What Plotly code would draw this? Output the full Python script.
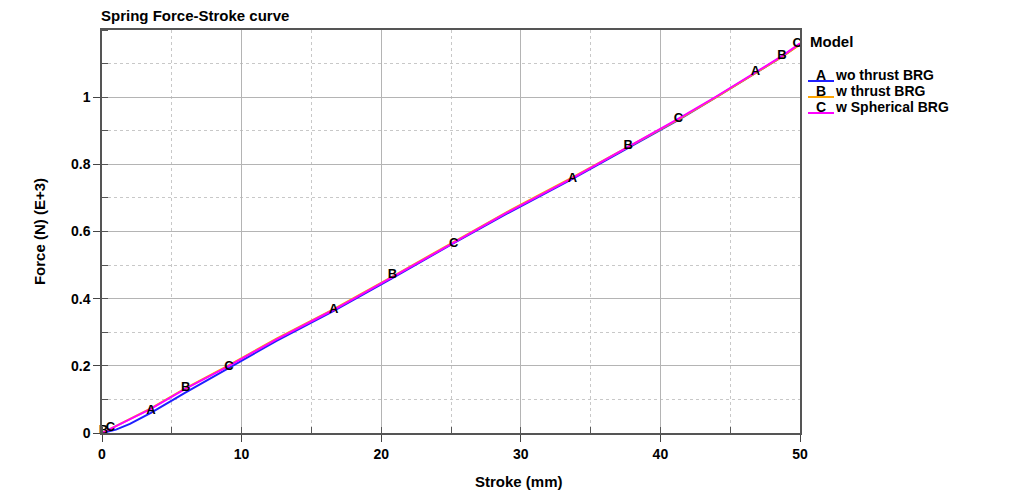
import plotly.graph_objects as go

# ---- data (Force in N E+3, stroke in mm) ----
stroke = [0, 1, 2, 3.5, 6, 9, 12.5, 16.6, 20.8, 25, 29, 33.7, 37.7, 41.3, 44, 46.8, 48.7, 50]
force_A = [0, 0.01, 0.027, 0.06, 0.121, 0.191, 0.274, 0.364, 0.461, 0.561, 0.653, 0.757, 0.85, 0.932, 1.0, 1.071, 1.12, 1.158]
force_B = [0, 0.021, 0.042, 0.073, 0.134, 0.2, 0.281, 0.369, 0.466, 0.565, 0.658, 0.761, 0.853, 0.934, 1.0, 1.071, 1.12, 1.157]
force_C = [0, 0.02, 0.041, 0.072, 0.132, 0.198, 0.279, 0.367, 0.464, 0.563, 0.656, 0.759, 0.852, 0.936, 1.002, 1.073, 1.122, 1.16]

# letter label positions along curves
lab_A_x = [3.5, 16.6, 33.7, 46.8]
lab_A_y = [0.067, 0.366, 0.756, 1.075]
lab_B_x = [0.1, 6.0, 20.8, 37.7, 48.7]
lab_B_y = [0.006, 0.134, 0.47, 0.854, 1.122]
lab_C_x = [0.6, 9.1, 25.2, 41.3, 49.8]
lab_C_y = [0.016, 0.196, 0.565, 0.937, 1.16]

series = [
    ("A", "wo thrust BRG", force_A, "#1f1fff", lab_A_x, lab_A_y),
    ("B", "w thrust BRG", force_B, "#ffa500", lab_B_x, lab_B_y),
    ("C", "w Spherical BRG", force_C, "#ff00ff", lab_C_x, lab_C_y),
]

x_ticks = [0, 10, 20, 30, 40, 50]
y_ticks = [0, 0.2, 0.4, 0.6, 0.8, 1.0]
y_ticktext = ["0", "0.2", "0.4", "0.6", "0.8", "1"]

FONT = "Liberation Sans, Arial, sans-serif"

fig = go.Figure()
for letter, name, ys, color, lx, ly in series:
    fig.add_trace(go.Scatter(x=stroke, y=ys, mode="lines", name=name,
                             line=dict(color=color, width=2), showlegend=False))
for letter, name, ys, color, lx, ly in series:
    fig.add_trace(go.Scatter(x=lx, y=ly, mode="text", text=["<b>%s</b>" % letter] * len(lx),
                             textfont=dict(family=FONT, size=13, color="black"),
                             textposition="middle center", showlegend=False, cliponaxis=False))

axis_common = dict(
    showline=True, linecolor="#555555", linewidth=1.5, mirror=True,
    showgrid=True, gridcolor="#b4b4b4", gridwidth=1,
    ticks="outside", ticklen=7, tickcolor="#444444", tickwidth=1,
    tickfont=dict(family=FONT, size=14, color="black", weight="bold"),
    zeroline=False,
    minor=dict(ticks="inside", ticklen=6, tickcolor="#555555", showgrid=True,
               gridcolor="#c8c8c8", griddash="dot", gridwidth=1),
)

fig.update_xaxes(range=[0, 50], tickvals=x_ticks, minor_dtick=5, **axis_common)
fig.update_yaxes(range=[0, 1.2], tickvals=y_ticks, ticktext=y_ticktext, minor_dtick=0.1,
                 title=dict(text="<b>Force (N) (E+3)</b>", font=dict(family=FONT, size=15, color="black"), standoff=22),
                 **axis_common)

fig.add_annotation(text="<b>Spring Force-Stroke curve</b>", xref="paper", yref="paper",
                   x=0, y=1, xanchor="left", yanchor="bottom", yshift=4, xshift=-3, showarrow=False,
                   font=dict(family=FONT, size=15, color="black"))

# plot-area pixel coordinates in the screenshot (used for manual placement)
px_left, px_right, px_top, px_bot = 102, 800, 30, 433
def px2paper(px, py):
    return (px - px_left) / (px_right - px_left), (px_bot - py) / (px_bot - px_top)

sx, sy = px2paper(519, 481)
fig.add_annotation(text="<b>Stroke (mm)</b>", x=sx, y=sy, xref="paper", yref="paper",
                   xanchor="center", yanchor="middle", showarrow=False,
                   font=dict(family=FONT, size=15, color="black"))

mx, my = px2paper(808, 42)
fig.add_annotation(text="<b>Model</b>", x=mx, y=my, xref="paper", yref="paper",
                   xanchor="left", yanchor="middle", showarrow=False,
                   font=dict(family=FONT, size=15, color="black"))
for i, (letter, name, ys, color, lx, ly) in enumerate(series):
    yy = 75 + 16 * i
    ax_, ay_ = px2paper(821, yy)
    fig.add_annotation(text="<b>%s</b>" % letter, x=ax_, y=ay_, xref="paper", yref="paper",
                       xanchor="center", yanchor="middle", showarrow=False,
                       font=dict(family=FONT, size=14, color="black"))
    tx, ty = px2paper(833, yy)
    fig.add_annotation(text="<b>%s</b>" % name, x=tx, y=ty, xref="paper", yref="paper",
                       xanchor="left", yanchor="middle", showarrow=False,
                       font=dict(family=FONT, size=14, color="black"))
    x0, y0 = px2paper(808, yy + 6)
    x1, _ = px2paper(834, yy + 6)
    fig.add_shape(type="line", x0=x0, x1=x1, y0=y0, y1=y0, xref="paper", yref="paper",
                  line=dict(color=color, width=2))

# the page adds an 8px body margin, so margins are 8px smaller than screenshot positions
fig.update_layout(
    width=1024, height=504,
    margin=dict(l=94, r=232, t=22, b=79),
    paper_bgcolor="white", plot_bgcolor="white",
    showlegend=False,
)

fig.write_html("out.html")
